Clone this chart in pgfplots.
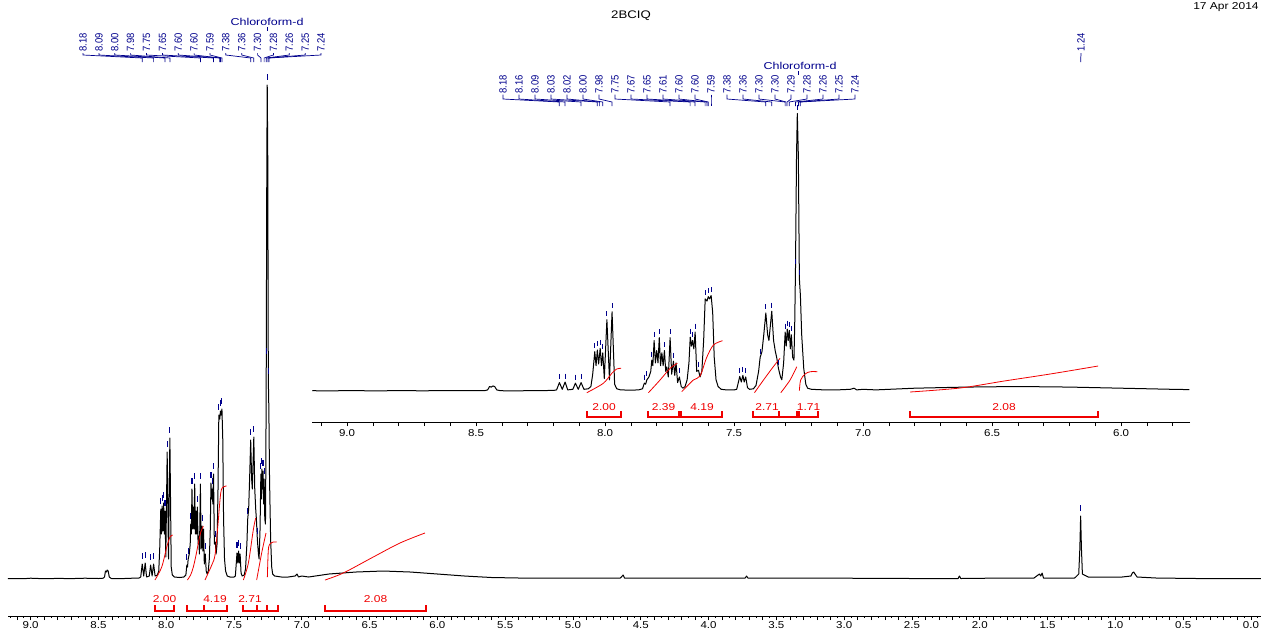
\documentclass[border=0pt]{standalone}
\usepackage{fontspec}
\setmainfont{Liberation Sans}
\usepackage{graphicx}
\usepackage{pgfplots}
\usepackage{pgfplotstable}
\pgfplotsset{compat=1.18}
\pgfkeys{/pgf/number format/assume math mode=true}
\definecolor{navy}{RGB}{0,0,140}
\definecolor{intred}{RGB}{240,0,0}
\newcommand\lblf{\fontsize{10.5}{11}\selectfont}
\newcommand\intf{\fontsize{10}{11}\selectfont}

\pgfplotstableread{
ppm y
9.167 0.5
9.135 0.5
9.05 0.3
9.00 0.8
8.90 0.3
8.80 0.6
8.70 0.4
8.60 0.8
8.50 0.5
8.465 0.8
8.455 2
8.448 8
8.441 7
8.435 9
8.428 8
8.420 2
8.405 0.5
8.35 0.3
8.25 0.8
8.20 1
8.188 2
8.177 15
8.166 3
8.155 16
8.145 2
8.125 3
8.115 14
8.104 3
8.093 15
8.082 3
8.065 4
8.055 8
8.048 30
8.040 70
8.035 45
8.030 73
8.025 48
8.019 76
8.014 45
8.009 68
8.003 22
7.993 127
7.983 20
7.973 141
7.963 12
7.955 4
7.94 2
7.90 1.5
7.87 2
7.855 4
7.848 14
7.843 12
7.838 20
7.830 25
7.823 35
7.819 55
7.815 45
7.810 90
7.805 50
7.800 72
7.795 50
7.790 95
7.785 45
7.780 68
7.775 45
7.770 72
7.765 35
7.761 43
7.755 25
7.748 95
7.742 30
7.735 53
7.730 28
7.725 50
7.719 15
7.712 25
7.705 8
7.698 5
7.690 8
7.682 20
7.675 50
7.670 96
7.665 80
7.661 90
7.656 75
7.651 105
7.645 35
7.638 37
7.632 25
7.625 35
7.618 90
7.612 164
7.605 160
7.600 168
7.595 164
7.589 170
7.583 140
7.577 60
7.570 20
7.562 8
7.550 3
7.530 2
7.50 2
7.490 3
7.478 26
7.472 16
7.466 28
7.461 16
7.455 25
7.448 6
7.440 3
7.425 4
7.415 10
7.405 35
7.399 60
7.392 70
7.385 100
7.377 139
7.370 100
7.365 90
7.354 142
7.347 90
7.340 70
7.335 60
7.328 40
7.320 25
7.315 20
7.308 50
7.302 105
7.298 80
7.294 110
7.290 90
7.286 108
7.282 75
7.278 100
7.273 60
7.268 55
7.265 120
7.262 220
7.258 420
7.255 494
7.251 420
7.247 200
7.243 170
7.238 100
7.230 40
7.222 12
7.215 5
7.200 3
7.150 2
7.100 2
7.050 3
7.035 5
7.025 2
7.000 3
6.950 2
6.900 3
6.800 5
6.700 6
6.600 7
6.500 7.5
6.400 8
6.300 7.5
6.200 7
6.100 6
6.000 5
5.900 4
5.800 3
5.735 2.5
5.600 1.5
5.400 1
5.200 1
5.000 1
4.800 0.8
4.650 1
4.630 4
4.620 1
4.300 1
4.000 0.8
3.730 1
3.720 3
3.710 1
3.400 1
3.000 0.8
2.500 0.5
2.160 0.5
2.150 3
2.140 0.5
1.800 1
1.600 1
1.560 5
1.550 3
1.540 6
1.530 1
1.300 1
1.270 5
1.262 30
1.256 63
1.250 30
1.243 5
1.200 2
0.950 2
0.885 3
0.875 6
0.865 7
0.855 5
0.840 2
0.700 1
0.400 0.5
0.000 0.5
-0.074 0.5
}\spec

\pgfplotstableread{
ppm h
8.177 15
8.155 16
8.115 14
8.093 15
8.040 70
8.030 73
8.019 76
8.009 68
7.993 127
7.973 141
7.848 14
7.838 20
7.819 55
7.810 90
7.790 95
7.770 72
7.748 95
7.735 53
7.712 25
7.670 96
7.661 90
7.651 105
7.638 37
7.612 164
7.600 168
7.589 170
7.478 26
7.466 28
7.455 25
7.399 60
7.377 139
7.354 142
7.328 40
7.302 105
7.294 110
7.286 108
7.278 100
7.262 220
7.255 494
7.247 200
1.256 63
}\pk

\begin{document}
\begin{tikzpicture}
\useasboundingbox (0pt,0pt) rectangle (1261pt,-633pt);
% ---------------- main spectrum ----------------
\begin{axis}[
  at={(8pt,-616pt)}, anchor=south west,
  scale only axis, width=1253pt, height=616pt,
  xmin=-0.074, xmax=9.167, ymin=-37, ymax=579,
  x dir=reverse, clip=false,
  axis x line=bottom, axis y line=none,
  x axis line style={-, line width=0.8pt},
  tick align=outside, major tick length=4pt, minor tick length=2pt,
  every tick/.style={black, line width=0.7pt},
  xtick={0,0.5,...,9},
  minor xtick={-0.05,0,...,9.15},
  extra x ticks={0.1,0.2,...,9.1},
  extra x tick style={xticklabel={}},
  xticklabel style={font=\fontsize{10}{11}\selectfont, xscale=1.15, inner sep=1pt,
    /pgf/number format/fixed, /pgf/number format/fixed zerofill, /pgf/number format/precision=1},
]
\addplot[black, line width=1pt, line join=round] table[x=ppm, y=y] {\spec};
\addplot[only marks, mark=|, mark size=3pt, navy, mark options={line width=1.1pt}] table[x=ppm, y expr=\thisrow{h}+8] {\pk};
% integral curves
\addplot[intred, line width=0.8pt, smooth] coordinates {(8.083,-1) (8.033,12) (7.996,32) (7.972,42) (7.952,44)};
\addplot[intred, line width=0.8pt, smooth] coordinates {(7.844,-1) (7.82,4) (7.80,12) (7.78,24) (7.763,36) (7.745,47) (7.726,53)};
\addplot[intred, line width=0.8pt, smooth] coordinates {(7.714,-1) (7.664,14) (7.640,24) (7.620,52) (7.598,86) (7.579,92) (7.554,93)};
\addplot[intred, line width=0.8pt, smooth] coordinates {(7.431,-1) (7.394,16) (7.358,49) (7.340,61)};
\addplot[intred, line width=0.8pt, smooth] coordinates {(7.333,-1) (7.296,26) (7.264,46)};
\addplot[intred, line width=0.8pt, smooth] coordinates {(7.254,2) (7.247,29) (7.235,35) (7.210,37) (7.185,37)};
\addplot[intred, line width=0.8pt, smooth] coordinates {(6.829,-1) (6.694,6) (6.473,22) (6.276,36) (6.092,46)};
\end{axis}
% ---------------- inset ----------------
\begin{axis}[
  at={(312pt,-422pt)}, anchor=south west,
  scale only axis, width=878pt, height=422pt,
  xmin=5.733, xmax=9.136, ymin=-31, ymax=391,
  x dir=reverse, clip=false,
  axis x line=bottom, axis y line=none,
  x axis line style={-, line width=0.8pt},
  tick align=outside, major tick length=4pt,
  every tick/.style={black, line width=0.7pt},
  xtick={6,6.5,...,9},
  extra x ticks={5.8,5.9,...,9.1},
  extra x tick style={xticklabel={}},
  xticklabel style={font=\fontsize{10}{11}\selectfont, xscale=1.15, inner sep=3pt,
    /pgf/number format/fixed, /pgf/number format/fixed zerofill, /pgf/number format/precision=1},
]
\addplot[black, line width=1pt, line join=round, restrict x to domain=5.733:9.136] table[x=ppm, y expr=\thisrow{y}/1.78] {\spec};
\addplot[only marks, mark=|, mark size=2.5pt, navy, mark options={line width=1.1pt}, restrict x to domain=5.733:9.136] table[x=ppm, y expr=\thisrow{h}/1.78+6] {\pk};
\addplot[intred, line width=0.8pt, smooth] coordinates {(8.071,-1.7) (8.007,7.7) (7.974,17.7) (7.955,22) (7.938,22.7)};
\addplot[intred, line width=0.8pt, smooth] coordinates {(7.832,-1.7) (7.787,11) (7.748,22.7) (7.720,27.7)};
\addplot[intred, line width=0.8pt, smooth] coordinates {(7.703,-0.7) (7.658,11) (7.632,15) (7.606,33.7) (7.580,46) (7.545,50.3)};
\addplot[intred, line width=0.8pt, smooth] coordinates {(7.421,-1.7) (7.386,11) (7.348,24.3) (7.322,32.7)};
\addplot[intred, line width=0.8pt, smooth] coordinates {(7.319,-1.7) (7.283,11) (7.257,24.3)};
\addplot[intred, line width=0.8pt, smooth] coordinates {(7.247,0.3) (7.242,11) (7.225,17) (7.205,19.3) (7.177,19.3)};
\addplot[intred, line width=0.8pt, smooth] coordinates {(6.818,-1) (6.624,3) (6.453,10) (6.275,17) (6.089,25)};
\end{axis}
% ---------------- annotations (pixel frame) ----------------
\begin{scope}[x=1pt,y=-1pt]
\node[font=\fontsize{11}{12}\selectfont, xscale=1.2] at (631,16) {2BCIQ};
\node[font=\fontsize{10}{11}\selectfont, xscale=1.2, anchor=west, inner sep=0pt] at (1193,7) {17 Apr 2014};
% main peak labels
\node[text=navy, font=\fontsize{10}{11}\selectfont, xscale=1.25] at (267,22) {Chloroform-d};
\draw[navy, line width=0.7pt] (267,27) -- (267,31);
\foreach \lx/\lab/\tx in {83/8.18/142.2, 98.9/8.09/153.6, 114.7/8.00/165.0, 130.6/7.98/169.9,
  146.5/7.75/200.4, 162.4/7.65/213.5, 178.2/7.60/219.8, 194.1/7.60/220.4, 210.0/7.59/221.9,
  225.8/7.38/250.7, 241.7/7.36/253.8, 257.6/7.30/260.9, 273.4/7.28/264.1, 289.3/7.26/266.3,
  305.2/7.25/267.9, 321.0/7.24/268.9, 1081/1.24/1080.7}{
  \node[rotate=90, anchor=west, inner sep=0pt, text=navy, font=\lblf] at (\lx,52) {\scalebox{0.9}[1]{\lab}};
  \draw[navy, line width=0.7pt] (\lx,53) -- (\lx,55) -- (\tx,58) -- (\tx,62);
}
% inset peak labels
\node[text=navy, font=\fontsize{10}{11}\selectfont, xscale=1.25] at (800,66) {Chloroform-d};
\draw[navy, line width=0.7pt] (798,71) -- (798,75);
\foreach \lx/\lab/\tx in {503/8.18/559.3, 519/8.16/565.0, 535/8.09/581.0, 551/8.03/597.3,
  567/8.02/599.6, 583/8.00/602.7, 599/7.98/612.0, 615/7.75/670.0, 631/7.67/690.1,
  647/7.65/695.0, 663/7.61/705.1, 679/7.60/706.9, 695/7.60/708.2, 711/7.59/711.0,
  727/7.38/765.7, 743/7.36/771.7, 759/7.30/785.1, 775/7.30/786.1, 791/7.29/787.1,
  807/7.28/789.2, 823/7.26/795.4, 839/7.25/798.5, 855/7.24/800.3}{
  \node[rotate=90, anchor=west, inner sep=0pt, text=navy, font=\lblf] at (\lx,93.5) {\scalebox{0.9}[1]{\lab}};
  \draw[navy, line width=0.7pt] (\lx,94.5) -- (\lx,99) -- (\tx,102) -- (\tx,106);
}
% main integral brackets
\begin{scope}[intred, line width=1.2pt]
\draw (155,605) -- (155,611) -- (174,611) -- (174,605);
\draw (187,605) -- (187,611) -- (227,611) -- (227,605);
\draw (204,605) -- (204,611);
\draw (243,605) -- (243,611) -- (278,611) -- (278,605);
\draw (257,605) -- (257,611);
\draw (267,605) -- (267,611);
\draw (325,605) -- (325,611) -- (426,611) -- (426,605);
% inset brackets
\draw (587,411) -- (587,417) -- (621,417) -- (621,411);
\draw (648,411) -- (648,417) -- (679,417) -- (679,411);
\draw (681,411) -- (681,417) -- (722,417) -- (722,411);
\draw (753,411) -- (753,417) -- (797,417) -- (797,411);
\draw (779,411) -- (779,417);
\draw (799,411) -- (799,417) -- (818,417) -- (818,411);
\draw (910,411) -- (910,417) -- (1098,417) -- (1098,411);
\end{scope}
\begin{scope}[every node/.style={text=intred, font=\intf, xscale=1.2}]
\node at (164.5,599) {2.00};
\node at (215,599) {4.19};
\node at (250,599) {2.71};
\node at (375.5,599) {2.08};
\node at (604,407) {2.00};
\node at (663.5,407) {2.39};
\node at (702,407) {4.19};
\node at (767,407) {2.71};
\node at (808.5,407) {1.71};
\node at (1004,407) {2.08};
\end{scope}
\end{scope}
\end{tikzpicture}
\end{document}
